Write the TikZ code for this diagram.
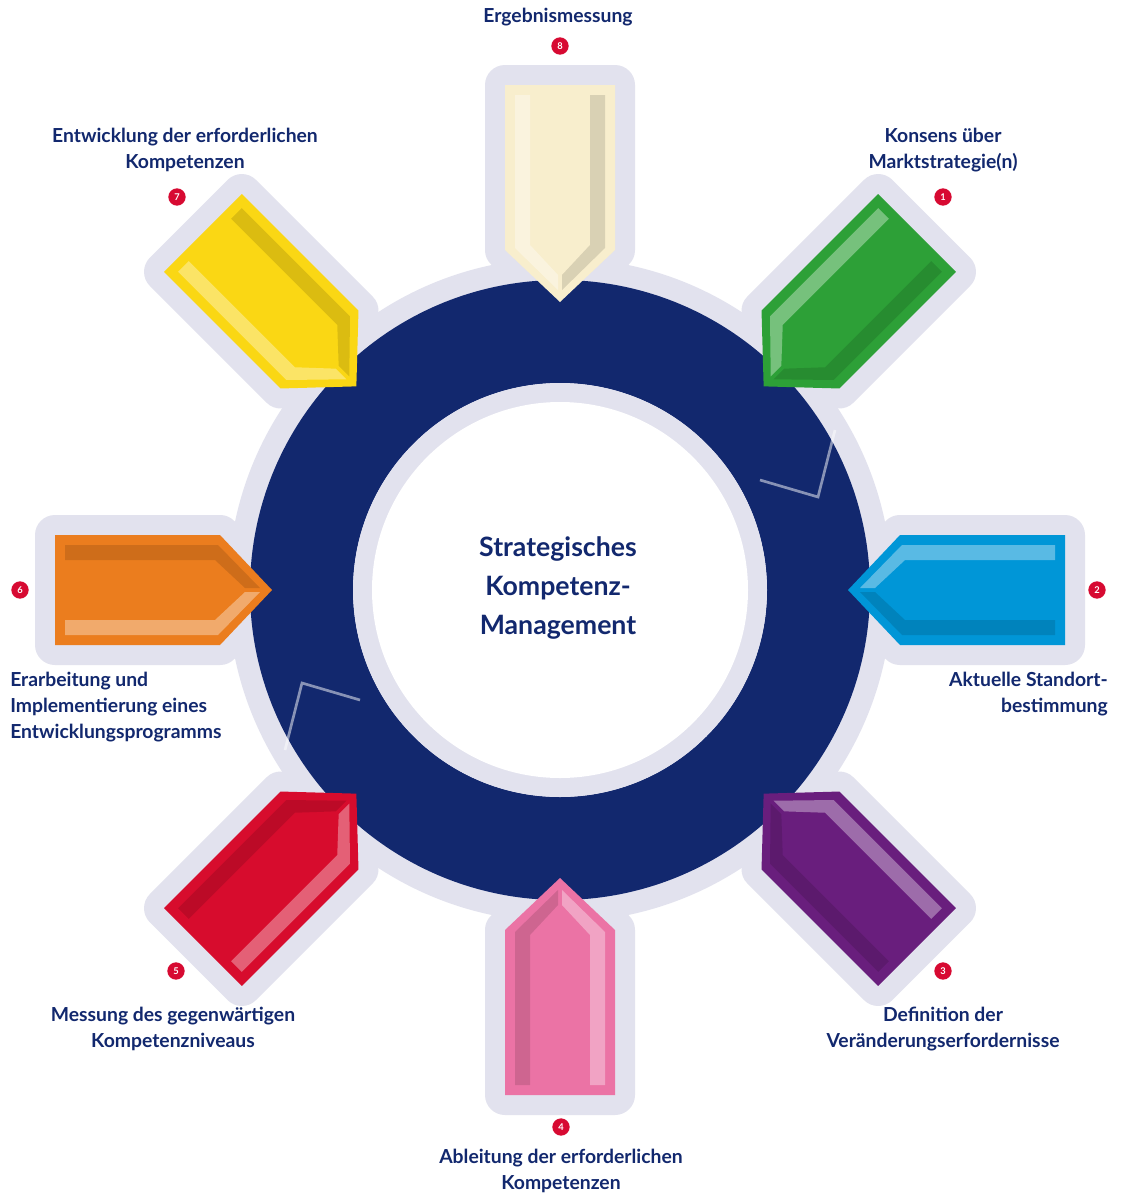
\documentclass[tikz,border=0pt]{standalone}
\usepackage{fontspec}
\setmainfont{Lato}
\definecolor{navy}{RGB}{18,40,110}
\definecolor{halo}{RGB}{226,226,238}
\definecolor{bred}{RGB}{215,10,50}
\definecolor{c1}{RGB}{45,160,55}
\definecolor{c2}{RGB}{0,150,215}
\definecolor{c3}{RGB}{105,30,125}
\definecolor{c4}{RGB}{235,115,165}
\definecolor{c5}{RGB}{215,12,45}
\definecolor{c6}{RGB}{235,125,30}
\definecolor{c7}{RGB}{250,215,20}
\definecolor{c8}{RGB}{248,238,205}
\tikzset{
 lbl/.style={text=navy,font=\bfseries\fontsize{14.5}{19.5}\selectfont,align=center,inner sep=0pt},
 badge/.style={circle,fill=bred,text=white,inner sep=0pt,minimum size=13pt,font=\bfseries\fontsize{7}{7}\selectfont},
}
\newcommand{\arrowshape}{(288,0) -- (340,55) -- (505,55) -- (505,-55) -- (340,-55) -- cycle}
\newcommand{\arrowhalo}[1]{\begin{scope}[shift={(560,590)},rotate=#1]
 \draw[halo,fill=halo,line width=30pt,line join=round] \arrowshape;\end{scope}}
\newcommand{\arrowbody}[2]{\begin{scope}[shift={(560,590)},rotate=#1]
 \fill[#2] \arrowshape;
 \fill[white,opacity=0.35] (300,-2) -- (342,-45) -- (495,-45) -- (495,-30) -- (345,-30) -- (315,-2) -- cycle;
 \fill[black,opacity=0.12] (300,2) -- (342,45) -- (495,45) -- (495,30) -- (345,30) -- (315,2) -- cycle;
 \end{scope}}
\begin{document}
\begin{tikzpicture}[x=0.75pt,y=-0.75pt]
\useasboundingbox (0,0) rectangle (1130,1200);
\fill[white] (0,0) rectangle (1130,1200);
\fill[halo] (560,590) circle (332);
\foreach \a in {0,45,...,315}{\arrowhalo{\a}}
\fill[navy,even odd rule] (560,590) circle (310) (560,590) circle (207);
\fill[halo] (560,590) circle (207);
\fill[white] (560,590) circle (188);
\draw[white,opacity=0.5,line width=2pt] (760,480) -- (818,497) -- (835,430);
\draw[white,opacity=0.5,line width=2pt] (360,700) -- (302,683) -- (285,750);
\arrowbody{45}{c1}
\arrowbody{0}{c2}
\arrowbody{-45}{c3}
\arrowbody{-90}{c4}
\arrowbody{-135}{c5}
\arrowbody{180}{c6}
\arrowbody{135}{c7}
\arrowbody{90}{c8}
\node[text=navy,font=\bfseries\fontsize{20}{29}\selectfont,align=center] (center) at (558,588) {Strategisches\\Kompetenz-\\Management};
\node[lbl] (t8) at (558,17) {Ergebnismessung};
\node[badge] (b8) at (560,46) {8};
\node[lbl] (t1) at (943,150) {Konsens über\\Marktstrategie(n)};
\node[badge] (b1) at (943,197) {1};
\node[badge] (b2) at (1097,590) {2};
\node[lbl,anchor=north east,align=right] (t2) at (1108,672) {Aktuelle Standort-\\bestimmung};
\node[badge] (b3) at (943,971) {3};
\node[lbl] (t3) at (943,1029) {Definition der\\Veränderungserfordernisse};
\node[badge] (b4) at (561,1127) {4};
\node[lbl] (t4) at (561,1171) {Ableitung der erforderlichen\\Kompetenzen};
\node[badge] (b5) at (176,971) {5};
\node[lbl] (t5) at (173,1029) {Messung des gegenwärtigen\\Kompetenzniveaus};
\node[badge] (b6) at (20,590) {6};
\node[lbl,anchor=north west,align=left] (t6) at (10,672) {Erarbeitung und\\Implementierung eines\\Entwicklungsprogramms};
\node[badge] (b7) at (177,197) {7};
\node[lbl] (t7) at (185,150) {Entwicklung der erforderlichen\\Kompetenzen};
\end{tikzpicture}
\end{document}
